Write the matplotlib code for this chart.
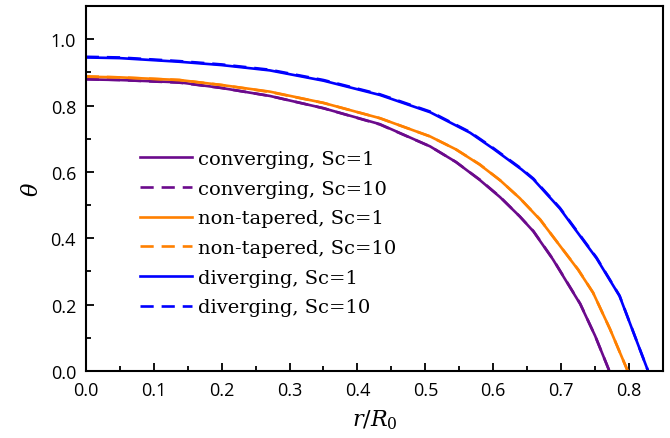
import matplotlib
matplotlib.use('Agg')
import matplotlib.pyplot as plt
from matplotlib.ticker import MultipleLocator

plt.rcParams['mathtext.fontset'] = 'dejavuserif'

# radial positions (r/R0) and theta values
r_conv = [0.0, 0.05, 0.138, 0.2, 0.271, 0.35, 0.433, 0.507, 0.545, 0.58, 0.61, 0.639, 0.659, 0.688, 0.728, 0.75, 0.771]
conv_sc1 = [0.879, 0.877, 0.870, 0.853, 0.829, 0.792, 0.744, 0.677, 0.630, 0.576, 0.524, 0.466, 0.421, 0.336, 0.202, 0.106, 0.0]
conv_sc10 = [0.880, 0.877, 0.869, 0.853, 0.829, 0.792, 0.743, 0.677, 0.630, 0.577, 0.525, 0.466, 0.422, 0.337, 0.203, 0.106, 0.0]

r_flat = [0.0, 0.05, 0.138, 0.2, 0.271, 0.35, 0.433, 0.507, 0.545, 0.58, 0.61, 0.639, 0.669, 0.688, 0.725, 0.747, 0.772, 0.798]
flat_sc1 = [0.887, 0.885, 0.877, 0.862, 0.842, 0.808, 0.762, 0.707, 0.668, 0.622, 0.575, 0.521, 0.456, 0.405, 0.305, 0.236, 0.126, 0.0]
flat_sc10 = [0.888, 0.885, 0.877, 0.862, 0.841, 0.808, 0.762, 0.707, 0.668, 0.623, 0.575, 0.521, 0.457, 0.405, 0.306, 0.236, 0.126, 0.0]

r_div = [0.0, 0.05, 0.138, 0.2, 0.271, 0.35, 0.433, 0.507, 0.566, 0.6, 0.642, 0.659, 0.698, 0.752, 0.786, 0.828]
div_sc1 = [0.945, 0.943, 0.932, 0.922, 0.906, 0.875, 0.832, 0.780, 0.718, 0.670, 0.607, 0.578, 0.490, 0.340, 0.226, 0.0]
div_sc10 = [0.947, 0.945, 0.934, 0.924, 0.908, 0.877, 0.834, 0.782, 0.720, 0.672, 0.609, 0.580, 0.492, 0.342, 0.227, 0.0]

purple = '#6b0a8c'
orange = '#ff8000'
blue = '#0000ff'

fig = plt.figure(figsize=(6.7, 4.39), dpi=100)
ax = fig.add_axes([0.128, 0.1526, 0.8616, 0.8314])

lw = 1.9
dash = (0, (5, 3))
ax.plot(r_conv, conv_sc1, color=purple, lw=lw, label='converging, Sc=1')
ax.plot(r_conv, conv_sc10, color=purple, lw=lw, ls=dash, label='converging, Sc=10')
ax.plot(r_flat, flat_sc1, color=orange, lw=lw, label='non-tapered, Sc=1')
ax.plot(r_flat, flat_sc10, color=orange, lw=lw, ls=dash, label='non-tapered, Sc=10')
ax.plot(r_div, div_sc1, color=blue, lw=lw, label='diverging, Sc=1')
ax.plot(r_div, div_sc10, color=blue, lw=lw, ls=dash, label='diverging, Sc=10')

ax.set_xlim(0, 0.85)
ax.set_ylim(0, 1.1)
ax.xaxis.set_major_locator(MultipleLocator(0.1))
ax.xaxis.set_minor_locator(MultipleLocator(0.05))
ax.yaxis.set_major_locator(MultipleLocator(0.2))
ax.yaxis.set_minor_locator(MultipleLocator(0.1))
ax.tick_params(which='both', direction='in', top=False, right=False, width=1.3)
ax.tick_params(which='major', length=6, labelsize=13, pad=7)
ax.tick_params(which='minor', length=3.5)
for lab in ax.get_xticklabels() + ax.get_yticklabels():
    lab.set_family('Open Sans')
for s in ax.spines.values():
    s.set_linewidth(1.5)

ax.set_xlabel(r'$r/R_0$', fontsize=16, labelpad=6)
ax.set_ylabel(r'$\theta$', fontsize=16, labelpad=6)

ax.legend(loc='upper left', bbox_to_anchor=(0.0763, 0.632), frameon=False, borderpad=0,
          handlelength=2.7, handletextpad=0.3, labelspacing=0.6,
          prop={'family': 'DejaVu Serif', 'size': 14})

fig.savefig('out.png', dpi=100)
